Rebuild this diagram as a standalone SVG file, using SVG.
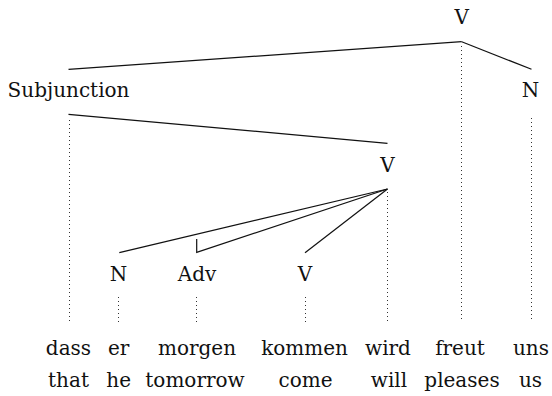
<svg xmlns="http://www.w3.org/2000/svg" width="552" height="396" viewBox="0 0 552 396">
<style>
text{font-family:"DejaVu Serif","Liberation Serif","Times New Roman",Times,serif;font-size:20px;fill:#111;text-anchor:middle}
.e{stroke:#111;stroke-width:1.2;fill:none}
.d{stroke:#333;stroke-width:1;stroke-dasharray:1 3;fill:none}
</style>
<rect width="552" height="396" fill="#fff"/>
<g id="connectors">
<line class="e" x1="461.7" y1="41.7" x2="68.5" y2="69.3"/>
<line class="e" x1="461.7" y1="41.7" x2="531.5" y2="69.3"/>
<line class="e" x1="68.5" y1="114.3" x2="387.5" y2="143.3"/>
<line class="e" x1="387.5" y1="189" x2="119.3" y2="252.7"/>
<polyline class="e" points="387.5,189 196.7,252.3 196.7,239"/>
<line class="e" x1="387.5" y1="189" x2="305" y2="252.7"/>
<line class="d" x1="69.5" y1="120" x2="69.5" y2="322"/>
<line class="d" x1="461.5" y1="46" x2="461.5" y2="322"/>
<line class="d" x1="531.5" y1="118" x2="531.5" y2="322"/>
<line class="d" x1="387.5" y1="192" x2="387.5" y2="322"/>
<line class="d" x1="118.5" y1="297" x2="118.5" y2="322"/>
<line class="d" x1="196.5" y1="297" x2="196.5" y2="322"/>
<line class="d" x1="305.5" y1="297" x2="305.5" y2="322"/>
</g>
<g id="n-v-top"><text x="461.7" y="24">V</text></g>
<g id="n-subj"><text x="68.5" y="97">Subjunction</text></g>
<g id="n-n-top"><text x="530.5" y="97">N</text></g>
<g id="n-v-mid"><text x="387.5" y="172">V</text></g>
<g id="n-n"><text x="118.5" y="281">N</text></g>
<g id="n-adv"><text x="197" y="281">Adv</text></g>
<g id="n-v-low"><text x="305" y="281">V</text></g>
<g id="words">
<text x="68.5" y="355">dass</text>
<text x="118.7" y="355">er</text>
<text x="197" y="355">morgen</text>
<text x="304.6" y="355">kommen</text>
<text x="388" y="355">wird</text>
<text x="460" y="355">freut</text>
<text x="531" y="355">uns</text>
<text x="68.5" y="387">that</text>
<text x="118.7" y="387">he</text>
<text x="195" y="387">tomorrow</text>
<text x="305.6" y="387">come</text>
<text x="389" y="387">will</text>
<text x="462" y="387">pleases</text>
<text x="530.5" y="387">us</text>
</g>
</svg>
